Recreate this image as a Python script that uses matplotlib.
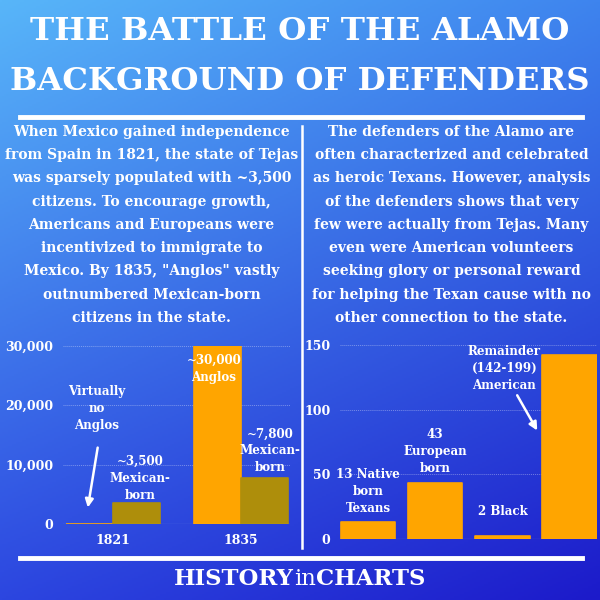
import numpy as np
import matplotlib
matplotlib.use("Agg")
import matplotlib.pyplot as plt
from matplotlib.colors import to_rgb

# ---------------- data ----------------
years = ["1821", "1835"]
anglos = [0, 30000]
mexican_born = [3500, 7800]
left_yticks = [0, 10000, 20000, 30000]

defender_groups = ["Native born Texans", "European born", "Black", "American"]
defender_counts = [13, 43, 2, 142]
right_yticks = [0, 50, 100, 150]

title_lines = ["THE BATTLE OF THE ALAMO", "BACKGROUND OF DEFENDERS"]
left_par = ["When Mexico gained independence",
            "from Spain in 1821, the state of Tejas",
            "was sparsely populated with ~3,500",
            "citizens. To encourage growth,",
            "Americans and Europeans were",
            "incentivized to immigrate to",
            "Mexico. By 1835, \"Anglos\" vastly",
            "outnumbered Mexican-born",
            "citizens in the state."]
right_par = ["The defenders of the Alamo are",
             "often characterized and celebrated",
             "as heroic Texans. However, analysis",
             "of the defenders shows that very",
             "few were actually from Tejas. Many",
             "even were American volunteers",
             "seeking glory or personal reward",
             "for helping the Texan cause with no",
             "other connection to the state."]

ORANGE = "#FFA500"
OLIVE = "#AE8E0B"
SERIF = "DejaVu Serif"

W = H = 600
fig = plt.figure(figsize=(6, 6), dpi=100)

# ---------------- gradient background ----------------
bg = fig.add_axes([0, 0, 1, 1], zorder=-10)
tl, tr = np.array(to_rgb("#58B6F9")), np.array(to_rgb("#3E84EE"))
bl, br = np.array(to_rgb("#2C46E0")), np.array(to_rgb("#1C1ACA"))
u = np.linspace(0, 1, 300)[None, :, None]
v = np.linspace(0, 1, 300)[:, None, None]
img = (1 - v) * ((1 - u) * tl + u * tr) + v * ((1 - u) * bl + u * br)
bg.imshow(img, extent=[0, 1, 0, 1], aspect="auto", origin="upper")
bg.set_xlim(0, 1); bg.set_ylim(0, 1); bg.axis("off")

def fx(px):
    return px / W

def fy(py):
    return 1 - py / H

renderer = fig.canvas.get_renderer()

def fit_text(x, y, s, width_px, size0=20, **kw):
    t = fig.text(fx(x), fy(y), s, fontsize=size0, ha="center", va="center",
                 color="white", family=SERIF, **kw)
    w = t.get_window_extent(renderer).width
    t.set_fontsize(size0 * width_px / w)
    return t

# ---------------- title ----------------
fit_text(300, 32, title_lines[0], 538, weight="bold")
fit_text(300, 81, title_lines[1], 578, weight="bold")

# horizontal lines and divider
fig.add_artist(plt.Line2D([fx(20), fx(582)], [fy(117), fy(117)], color="white", lw=3.5))
fig.add_artist(plt.Line2D([fx(20), fx(582)], [fy(558), fy(558)], color="white", lw=3.5))
fig.add_artist(plt.Line2D([fx(302), fx(302)], [fy(126), fy(548)], color="white", lw=1.8))

# ---------------- paragraphs ----------------
probe = fig.text(0, 0, left_par[1], fontsize=20, family=SERIF, weight="bold")
pw = probe.get_window_extent(renderer).width
par_size = 20 * 294 / pw
probe.remove()
for i, line in enumerate(left_par):
    fig.text(fx(151.5), fy(131.7 + 23.3 * i), line, fontsize=par_size, family=SERIF,
             weight="bold", color="white", ha="center", va="center")
for i, line in enumerate(right_par):
    fig.text(fx(451.5), fy(131.7 + 23.3 * i), line, fontsize=par_size, family=SERIF,
             weight="bold", color="white", ha="center", va="center")

tick_size = 9
ann_size = 8.6

def style_axes(ax):
    ax.set_facecolor("none")
    for sp in ax.spines.values():
        sp.set_visible(False)
    ax.tick_params(axis="both", length=0, colors="white", labelsize=tick_size)
    for lab in ax.get_xticklabels() + ax.get_yticklabels():
        lab.set_fontfamily(SERIF)
        lab.set_fontweight("bold")
        lab.set_color("white")
    ax.grid(axis="y", color="white", alpha=0.35, lw=0.7, linestyle=(0, (1, 1)))
    ax.set_axisbelow(True)

# ---------------- left chart ----------------
axL = fig.add_axes([fx(63), fy(524), (290 - 63) / W, (524 - 345.5) / H])
x = np.arange(len(years))
bw = 0.365
axL.bar(x - bw / 2, anglos, bw, color=ORANGE, edgecolor=ORANGE, lw=1.2, joinstyle="round")
axL.bar(x + bw / 2, mexican_born, bw, color=OLIVE, edgecolor=OLIVE, lw=1.2, joinstyle="round")
axL.set_xlim(-0.39, 1.38)
axL.set_ylim(0, 30000)
axL.set_yticks(left_yticks)
axL.set_yticklabels([f"{v:,}" for v in left_yticks])
axL.set_xticks(x)
axL.set_xticklabels(years)
axL.tick_params(axis="y", pad=7)
axL.tick_params(axis="x", pad=7)
style_axes(axL)
axL.axhline(0, color="white", alpha=0.5, lw=0.8)

annL = dict(fontsize=ann_size, family=SERIF, weight="bold", color="white",
            ha="center", va="center", linespacing=1.4)
axL.text(-0.13, 19350, "Virtually\nno\nAnglos", **annL)
axL.annotate("", xy=(-0.20, 2300), xytext=(-0.116, 13300),
             arrowprops=dict(arrowstyle="-|>", color="white", lw=1.8, mutation_scale=12))
axL.text(0 + bw / 2 + 0.03, 7700, "~3,500\nMexican-\nborn", **annL)
axL.text(1 - bw / 2 - 0.03, 26100, "~30,000\nAnglos", **annL)
axL.text(1 + bw / 2 + 0.04, 12300, "~7,800\nMexican-\nborn", **annL)

# ---------------- right chart ----------------
axR = fig.add_axes([fx(340), fy(539), (597 - 340) / W, (539 - 345) / H])
xr = np.arange(len(defender_groups))
axR.bar(xr, defender_counts, 0.81, color=ORANGE, edgecolor=ORANGE, lw=1.2, joinstyle="round")
axR.set_xlim(-0.42, 3.41)
axR.set_ylim(0, 150)
axR.set_yticks(right_yticks)
axR.set_xticks([])
axR.tick_params(axis="y", pad=7)
style_axes(axR)
axR.axhline(0, color="white", alpha=0.5, lw=0.8)

axR.text(0, 37, "13 Native\nborn\nTexans", **annL)
axR.text(1, 68, "43\nEuropean\nborn", **annL)
axR.text(2, 21, "2 Black", **annL)
axR.text(2.03, 131.5, "Remainder\n(142-199)\nAmerican", **annL)
axR.annotate("", xy=(2.54, 82), xytext=(2.2, 113),
             arrowprops=dict(arrowstyle="-|>", color="white", lw=1.8, mutation_scale=12))

# ---------------- footer ----------------
parts = [("HISTORY", "bold"), ("in", "normal"), ("CHARTS", "bold")]
fsz = 15
widths = []
tmp = []
for s, wgt in parts:
    t = fig.text(0, 0, s, fontsize=fsz, family=SERIF, weight=wgt)
    widths.append(t.get_window_extent(renderer).width)
    tmp.append(t)
for t in tmp:
    t.remove()
scale = 252 / sum(widths)
fsz *= scale
widths = [w * scale for w in widths]
xpos = 300 - sum(widths) / 2
for (s, wgt), w in zip(parts, widths):
    fig.text(fx(xpos), fy(579), s, fontsize=fsz, family=SERIF, weight=wgt,
             color="white", ha="left", va="center")
    xpos += w

fig.savefig("out.png", dpi=100)
